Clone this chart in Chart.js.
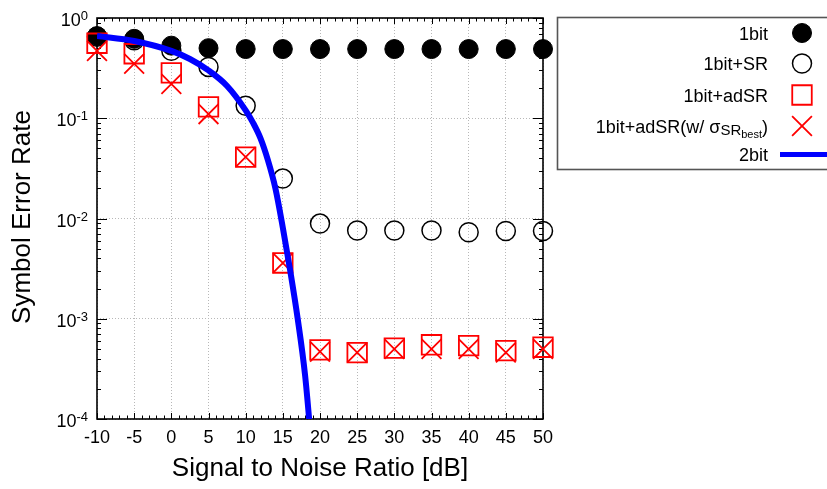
<!DOCTYPE html>
<html>
<head>
<meta charset="utf-8">
<script src="https://cdn.jsdelivr.net/npm/chart.js@4/dist/chart.umd.min.js"></script>
<style>
  html, body { margin: 0; padding: 0; background: #fff; }
  canvas { display: block; }
</style>
</head>
<body>
<canvas id="ser" width="827" height="489"></canvas>
<script>
// SNR sweep [dB] shared by the simulated curves
const snrPoints = [-10, -5, 0, 5, 10, 15, 20, 25, 30, 35, 40, 45, 50];

// Symbol error rate per scheme
const ser1bit         = [0.66, 0.62, 0.53, 0.50, 0.49, 0.49, 0.49, 0.49, 0.49, 0.49, 0.49, 0.49, 0.49];
const ser1bitSR       = [0.65, 0.60, 0.47, 0.325, 0.133, 0.025, 0.0089, 0.0076, 0.0076, 0.0076, 0.0073, 0.0075, 0.0075];
const ser1bitAdSR     = [0.56, 0.44, 0.284, 0.13, 0.041, 0.0036, 0.00049, 0.00046, 0.00051, 0.00055, 0.00054, 0.00048, 0.00052];
const ser1bitAdSRBest = [0.47, 0.35, 0.22, 0.11, 0.041, 0.0036, 0.00047, 0.00046, 0.00050, 0.00050, 0.00050, 0.00046, 0.00050];

// 2-bit quantizer reference curve
const snr2bit = [-10, -5, 0, 2.5, 5, 7.5, 10, 11, 12, 13, 14, 15, 16, 17, 18, 19];
const ser2bit = [0.66, 0.59, 0.47, 0.39, 0.30, 0.21, 0.12, 0.090, 0.063, 0.038, 0.020, 0.0081, 0.0030, 0.0010, 0.00027, 0.00004];

// Legend labels; the fourth one carries sub/sub-subscript parts [text, level]
const seriesLabels = ['1bit', '1bit+SR', '1bit+adSR', '1bit+adSR(w/ σSRbest)', '2bit'];
const bestLabelParts = [['1bit+adSR(w/ σ', 0], ['SR', 1], ['best', 2], [')', 0]];

// Axis ticks and titles
const xTickValues = [-10, -5, 0, 5, 10, 15, 20, 25, 30, 35, 40, 45, 50];
const yTickExponents = [0, -1, -2, -3, -4];
const xTitle = 'Signal to Noise Ratio [dB]';
const yTitle = 'Symbol Error Rate';

const FONT = '"Liberation Sans", Arial, Helvetica, sans-serif';
const RED = '#ff0000';
const BLUE = '#0000ff';

const toPoints = (xs, ys) => xs.map((v, i) => ({ x: v, y: ys[i] }));

const datasets = [
  {
    label: seriesLabels[0], data: toPoints(snrPoints, ser1bit), order: 5,
    showLine: false, pointStyle: 'circle', pointRadius: 9.5,
    pointBackgroundColor: '#000', pointBorderColor: '#000', pointBorderWidth: 1, clip: false
  },
  {
    label: seriesLabels[1], data: toPoints(snrPoints, ser1bitSR), order: 4,
    showLine: false, pointStyle: 'circle', pointRadius: 9.5,
    pointBackgroundColor: 'rgba(0,0,0,0)', pointBorderColor: '#000', pointBorderWidth: 1.5, clip: false
  },
  {
    label: seriesLabels[2], data: toPoints(snrPoints, ser1bitAdSR), order: 3,
    showLine: false, pointStyle: 'rect', pointRadius: 13.8,
    pointBackgroundColor: 'rgba(0,0,0,0)', pointBorderColor: RED, pointBorderWidth: 1.8, clip: false
  },
  {
    label: seriesLabels[3], data: toPoints(snrPoints, ser1bitAdSRBest), order: 2,
    showLine: false, pointStyle: 'crossRot', pointRadius: 14,
    pointBackgroundColor: 'rgba(0,0,0,0)', pointBorderColor: RED, pointBorderWidth: 1.8, clip: false
  },
  {
    label: seriesLabels[4], data: toPoints(snr2bit, ser2bit), order: 1,
    showLine: true, borderColor: BLUE, borderWidth: 6, pointRadius: 0,
    cubicInterpolationMode: 'monotone', fill: false, clip: 0
  }
];

// Draws one legend marker with the dataset's own point style
function drawLegendMarker(ctx, ds, px, py) {
  ctx.save();
  ctx.fillStyle = ds.pointBackgroundColor;
  ctx.strokeStyle = ds.pointBorderColor;
  ctx.lineWidth = ds.pointBorderWidth;
  Chart.helpers.drawPoint(ctx, {
    pointStyle: ds.pointStyle, radius: ds.pointRadius, rotation: 0,
    borderWidth: ds.pointBorderWidth
  }, px, py);
  ctx.restore();
}

// Frame, tick marks, tick labels, titles and the boxed legend
const decorations = {
  id: 'decorations',
  beforeDatasetsDraw(chart) {
    const { ctx, chartArea: a, scales: { x, y } } = chart;
    ctx.save();
    ctx.strokeStyle = '#000';
    ctx.lineWidth = 1;
    ctx.beginPath();
    for (let v = x.min; v <= x.max; v++) {
      const px = Math.round(x.getPixelForValue(v)) + 0.5;
      const len = v % 5 === 0 ? 6 : 3.5;
      ctx.moveTo(px, a.bottom); ctx.lineTo(px, a.bottom - len);
      ctx.moveTo(px, a.top); ctx.lineTo(px, a.top + len);
    }
    for (let e = -4; e <= 0; e++) {
      for (let m = 1; m <= 9; m++) {
        const v = m * Math.pow(10, e);
        if (v > y.max * 1.0001) break;
        const py = Math.round(y.getPixelForValue(v)) + 0.5;
        const len = m === 1 ? 10 : 4;
        ctx.moveTo(a.left, py); ctx.lineTo(a.left + len, py);
        ctx.moveTo(a.right, py); ctx.lineTo(a.right - len, py);
      }
    }
    ctx.stroke();
    ctx.lineWidth = 1.6;
    ctx.strokeRect(a.left, a.top, a.right - a.left, a.bottom - a.top);
    ctx.restore();
  },
  afterDraw(chart) {
    const { ctx, chartArea: a, scales: { x, y } } = chart;
    ctx.save();
    ctx.fillStyle = '#000';

    // x tick labels
    ctx.font = '18px ' + FONT;
    ctx.textAlign = 'center';
    ctx.textBaseline = 'alphabetic';
    xTickValues.forEach(v => ctx.fillText(String(v), x.getPixelForValue(v), 443));

    // y tick labels as powers of ten
    yTickExponents.forEach(e => {
      const py = y.getPixelForValue(Math.pow(10, e));
      ctx.font = '18px ' + FONT;
      const wBase = ctx.measureText('10').width;
      ctx.font = '13px ' + FONT;
      const exp = String(e);
      const wExp = ctx.measureText(exp).width;
      const right = a.left - 9;
      ctx.textAlign = 'left';
      ctx.font = '18px ' + FONT;
      ctx.fillText('10', right - wExp - wBase, py + 8);
      ctx.font = '13px ' + FONT;
      ctx.fillText(exp, right - wExp, py + 2);
    });

    // axis titles
    ctx.font = '26px ' + FONT;
    ctx.textAlign = 'center';
    ctx.fillText(xTitle, (a.left + a.right) / 2, 476);
    ctx.save();
    ctx.translate(30, 217);
    ctx.rotate(-Math.PI / 2);
    ctx.fillText(yTitle, 0, 0);
    ctx.restore();

    // legend box
    ctx.strokeStyle = '#555';
    ctx.lineWidth = 1.6;
    ctx.strokeRect(557.5, 17.5, 300, 152);

    const rowY = [33, 63.5, 95, 126, 154.5];
    const textRight = 768;
    const symX = 802;
    const sizes = [18, 15, 11];
    const shifts = [0, 2.5, 5.5];

    chart.data.datasets.forEach((ds, i) => {
      const cy = rowY[i];
      const base = cy + 6.5;
      ctx.fillStyle = '#000';
      if (i === 3) {
        let total = 0;
        bestLabelParts.forEach(([t, lvl]) => { ctx.font = sizes[lvl] + 'px ' + FONT; total += ctx.measureText(t).width; });
        let cx = textRight - total;
        ctx.textAlign = 'left';
        bestLabelParts.forEach(([t, lvl]) => {
          ctx.font = sizes[lvl] + 'px ' + FONT;
          ctx.fillText(t, cx, base + shifts[lvl]);
          cx += ctx.measureText(t).width;
        });
      } else {
        ctx.font = '18px ' + FONT;
        ctx.textAlign = 'right';
        ctx.fillText(ds.label, textRight, base);
      }
      if (ds.showLine) {
        ctx.strokeStyle = ds.borderColor;
        ctx.lineWidth = 5;
        ctx.beginPath();
        ctx.moveTo(780, cy); ctx.lineTo(840, cy);
        ctx.stroke();
      } else {
        drawLegendMarker(ctx, ds, symX, cy);
      }
    });
    ctx.restore();
  }
};

new Chart(document.getElementById('ser'), {
  type: 'scatter',
  data: { datasets },
  options: {
    responsive: false,
    animation: false,
    devicePixelRatio: 1,
    layout: { padding: { left: 97, top: 18, right: 284, bottom: 70 } },
    plugins: { legend: { display: false }, tooltip: { enabled: false } },
    scales: {
      x: {
        type: 'linear', min: -10, max: 50,
        afterBuildTicks: s => { s.ticks = xTickValues.map(v => ({ value: v })); },
        afterFit: s => { s.height = 0; },
        ticks: { display: false },
        grid: { color: '#b8b8b8', lineWidth: 1, drawTicks: false },
        border: { display: false, dash: [1, 2] }
      },
      y: {
        type: 'logarithmic', min: 1e-4, max: 1,
        afterBuildTicks: s => { s.ticks = yTickExponents.map(e => ({ value: Math.pow(10, e) })); },
        afterFit: s => { s.width = 0; },
        ticks: { display: false },
        grid: { color: '#b8b8b8', lineWidth: 1, drawTicks: false },
        border: { display: false, dash: [1, 2] }
      }
    }
  },
  plugins: [decorations]
});
</script>
</body>
</html>
